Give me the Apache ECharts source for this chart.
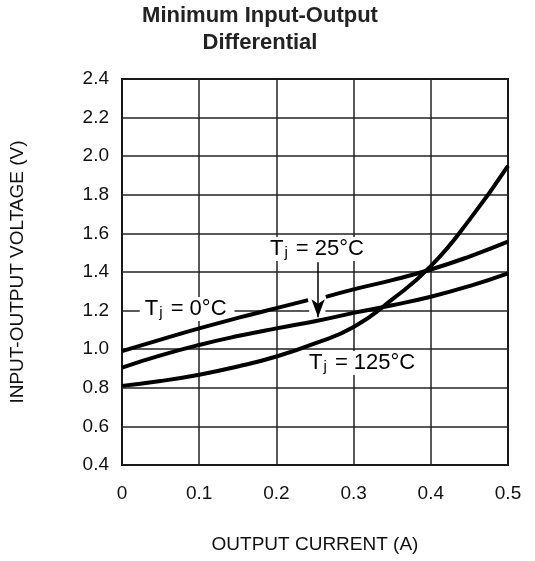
<!DOCTYPE html>
<html>
<head>
<meta charset="utf-8">
<script src="https://cdn.jsdelivr.net/npm/echarts@6/dist/echarts.min.js"></script>
<style>
  html, body { margin: 0; padding: 0; background: #fff; }
  #chart { width: 535px; height: 561px; }
</style>
</head>
<body>
<div id="chart"></div>
<script>
// output current (A), shared by all three curves
var current = [0, 0.05, 0.1, 0.15, 0.2, 0.25, 0.3, 0.35, 0.4, 0.45, 0.5];
// input-output voltage (V)
var volt0C   = [0.99, 1.05, 1.108, 1.162, 1.213, 1.262, 1.31, 1.358, 1.413, 1.48, 1.557];
var volt25C  = [0.905, 0.968, 1.022, 1.068, 1.108, 1.145, 1.188, 1.228, 1.272, 1.327, 1.393];
var volt125C = [0.81, 0.835, 0.868, 0.91, 0.962, 1.03, 1.115, 1.258, 1.43, 1.67, 1.95];
// the 0°C curve is broken where the 25°C arrow passes: ends of the two pieces
var gap0Ccurrent = [0.241, 0.264];
var gap0Cvolt    = [1.254, 1.271];

function pairs(xs, ys) {
  return xs.map(function (x, i) { return [x, ys[i]]; });
}

// 0°C points with a hole between the gap ends
function brokenCurve() {
  var out = [];
  pairs(current, volt0C).forEach(function (p) {
    if (p[0] < gap0Ccurrent[0]) out.push(p);
  });
  out.push([gap0Ccurrent[0], gap0Cvolt[0]]);
  out.push([(gap0Ccurrent[0] + gap0Ccurrent[1]) / 2, '-']);
  out.push([gap0Ccurrent[1], gap0Cvolt[1]]);
  pairs(current, volt0C).forEach(function (p) {
    if (p[0] > gap0Ccurrent[1]) out.push(p);
  });
  return out;
}

var font = 'Liberation Sans, Arial, sans-serif';
var labelRich = {
  t: { fontSize: 22, lineHeight: 22, fontFamily: font, color: '#000', textBorderWidth: 0 },
  s: { fontSize: 15, lineHeight: 2, verticalAlign: 'bottom', fontFamily: font, color: '#000', textBorderWidth: 0, padding: [0, 2, 0, 1] }
};

function curve(name, data, z) {
  return {
    name: name,
    type: 'line',
    data: data,
    smooth: true,
    connectNulls: false,
    symbol: 'none',
    z: z,
    lineStyle: { color: '#000', width: 4 }
  };
}

var chart = echarts.init(document.getElementById('chart'));
var s25 = curve('25', pairs(current, volt25C), 4);
// arrow from the 25°C label down to its curve
s25.markLine = {
  silent: true,
  z: 5,
  symbol: ['none', 'arrow'],
  symbolSize: [10, 18],
  label: { show: false },
  lineStyle: { color: '#000', width: 1.5, type: 'solid' },
  data: [[{ coord: [0.254, 1.45] }, { coord: [0.254, 1.165] }]]
};

chart.setOption({
  animation: false,
  title: {
    text: 'Minimum Input-Output\nDifferential',
    left: 260,
    top: 2,
    padding: 0,
    textAlign: 'center',
    textStyle: { fontFamily: font, fontSize: 22, fontWeight: 'bold', lineHeight: 27, color: '#222' }
  },
  grid: {
    left: 120, right: 27, top: 79, bottom: 96,
    show: true, borderColor: '#000', borderWidth: 2, backgroundColor: 'transparent'
  },
  xAxis: {
    type: 'value',
    min: 0, max: 0.5, interval: 0.1,
    name: 'OUTPUT CURRENT (A)',
    nameLocation: 'middle',
    nameGap: 70,
    nameTextStyle: { fontFamily: font, fontSize: 19, color: '#111' },
    axisLine: { show: false },
    axisTick: { show: false },
    axisLabel: {
      margin: 19, fontFamily: font, fontSize: 19, color: '#111',
      formatter: function (v) { return v === 0 ? '0' : v.toFixed(1); }
    },
    splitLine: { show: true, lineStyle: { color: '#222', width: 1.5 } }
  },
  yAxis: {
    type: 'value',
    min: 0.4, max: 2.4, interval: 0.2,
    name: 'INPUT-OUTPUT VOLTAGE (V)',
    nameLocation: 'middle',
    nameGap: 95,
    nameTextStyle: { fontFamily: font, fontSize: 19, color: '#111' },
    axisLine: { show: false },
    axisTick: { show: false },
    axisLabel: {
      margin: 13, fontFamily: font, fontSize: 19, color: '#111',
      formatter: function (v) { return v.toFixed(1); }
    },
    splitLine: { show: true, lineStyle: { color: '#222', width: 1.5 } }
  },
  series: [
    {
      // curve labels on white boxes that break the grid
      type: 'scatter',
      z: 1,
      silent: true,
      symbolSize: 1,
      itemStyle: { color: 'rgba(0,0,0,0)' },
      label: {
        show: true, position: 'inside', backgroundColor: '#fff',
        color: '#000', textBorderWidth: 0, opacity: 1,
        padding: [1, 8, 1, 5], rich: labelRich,
        formatter: function (p) { return p.data[2]; }
      },
      data: [
        [0.0844, 1.208, '{t|T}{s|j}{t| = 0°C}'],
        [0.2545, 1.519, '{t|T}{s|j}{t| = 25°C}'],
        [0.313, 0.928, '{t|T}{s|j}{t| = 125°C}']
      ]
    },
    curve('0', brokenCurve(), 2),
    {
      // white gap in the 1.2 V grid line around the arrow head
      type: 'line',
      data: [],
      z: 3,
      markArea: {
        silent: true,
        itemStyle: { color: '#fff' },
        data: [[{ coord: [0.2425, 1.25] }, { coord: [0.2635, 1.175] }]]
      }
    },
    s25,
    curve('125', pairs(current, volt125C), 4)
  ]
});
</script>
</body>
</html>
